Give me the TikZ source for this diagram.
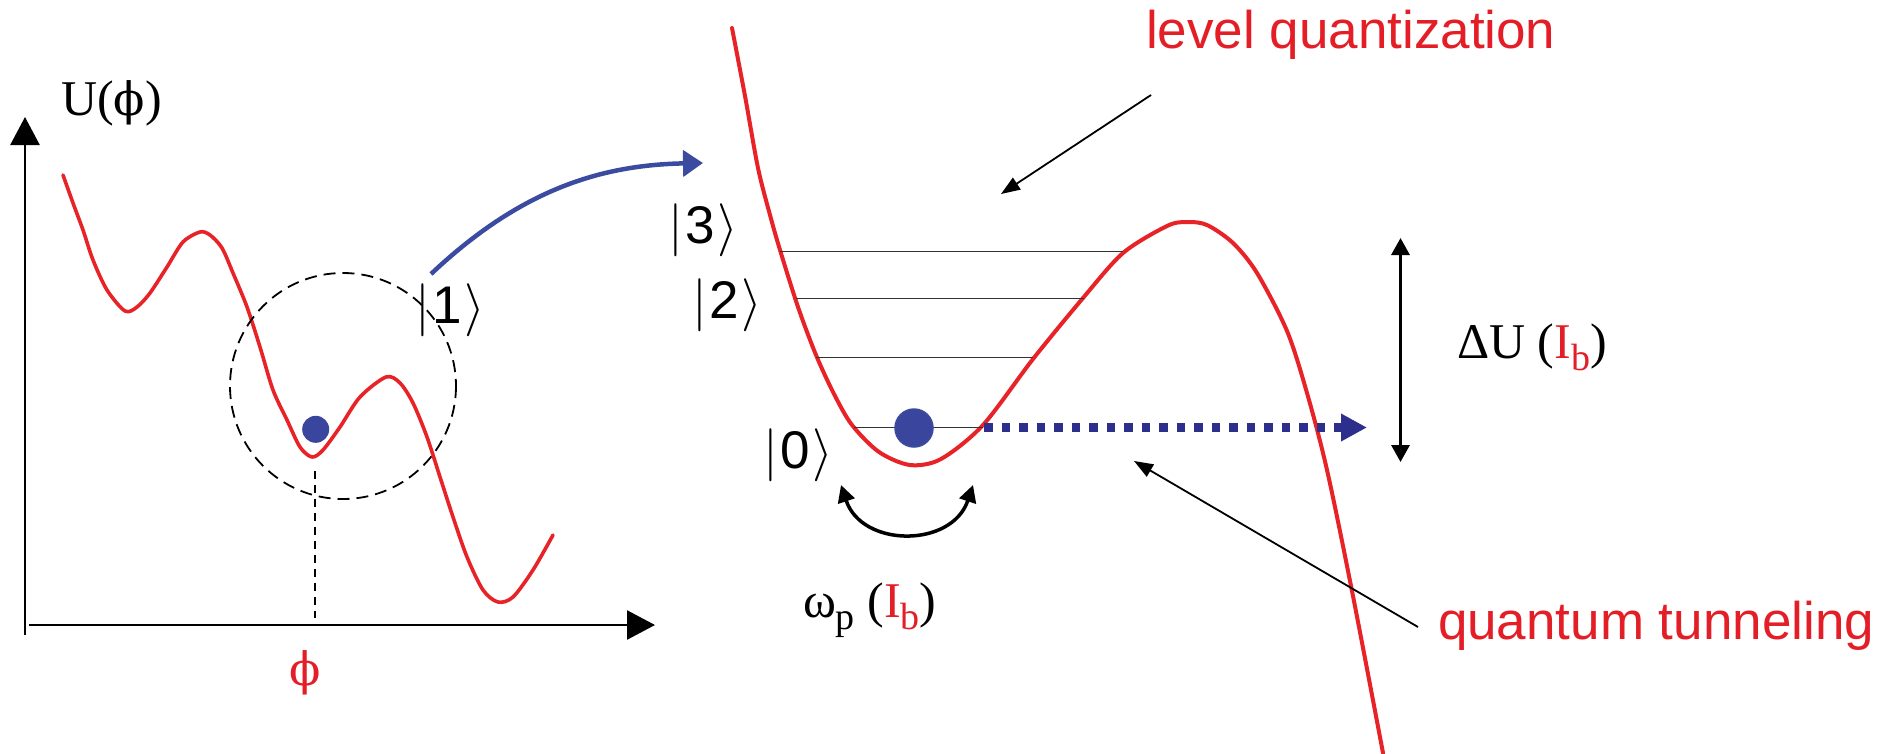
\RequirePackage{fix-cm}
\documentclass[tikz,border=0pt]{standalone}
\usepackage{fontspec}
\setmainfont{Liberation Serif}
\newfontfamily\sansf{Liberation Sans}
\newfontfamily\phifont{DejaVu Serif}
\usetikzlibrary{arrows.meta}
\definecolor{curvered}{RGB}{232,35,40}
\definecolor{textred}{RGB}{228,30,38}
\definecolor{arrowblue}{RGB}{59,75,160}
\definecolor{dotblue}{RGB}{58,70,158}
\definecolor{navy}{RGB}{44,47,140}
\newcommand\lowsub[1]{\raisebox{-12pt}{\fontsize{38}{38}\selectfont #1}}
\newcommand\myket[1]{$\vert$\hspace{3pt}{\sansf #1}\hspace{2pt}$\rangle$}
\newcommand\myphi{{\phifont\fontsize{46}{56}\selectfont ϕ}}
\tikzset{
  lbl/.style={inner sep=0pt, outer sep=0pt},
  seriftxt/.style={lbl, font=\fontsize{50}{60}\selectfont},
  ketlbl/.style={lbl, font=\fontsize{53}{60}\selectfont},
  redtxt/.style={lbl, text=textred, font=\sansf\fontsize{53}{60}\selectfont},
  potential/.style={draw=curvered, line width=3.6pt, line join=round, line cap=round},
  axis/.style={line width=2.5pt, -{Triangle[length=28pt,width=29pt]}},
  pointer/.style={line width=1.8pt, -{Triangle[length=19pt,width=14pt]}},
  level/.style={line width=0.9pt, draw=black!80},
  ball/.style={circle, fill=dotblue, inner sep=0pt},
}
\begin{document}
\begin{tikzpicture}[x=1pt,y=-1pt]
\useasboundingbox (0,0) rectangle (1892,753);
% axes
\coordinate (ybot) at (25,635);
\coordinate (ytop) at (25,117);
\coordinate (xleft) at (29,625);
\coordinate (xright) at (655,625);
\draw[axis] (ybot) -- (ytop);
\draw[axis] (xleft) -- (xright);
\node[seriftxt, anchor=base west] (ulabel) at (61,115) {U(\myphi)};
\node[seriftxt, text=textred] (philabel) at (305,673) {\myphi};
% left potential
\draw[potential] plot[smooth, tension=0.5] coordinates {
 (63,175) (73,203) (83,230) (93,260) (107,290) (125,311) (137,307) (150,293)
 (167,267) (183,242) (200,232) (210,235) (222,248) (233,273) (247,307)
 (260,347) (273,390) (287,420) (300,447) (312,457) (323,450) (340,427)
 (360,397) (386,377) (400,383) (413,403) (427,437) (440,477) (453,517)
 (467,557) (483,590) (498,602) (513,597) (533,570) (553,535)};
\node[ball, minimum size=27pt] (smallball) at (315.7,429.3) {};
\draw[line width=1.8pt, dash pattern=on 12pt off 7pt] (343,386) circle[radius=113];
\coordinate (minleft) at (314.7,471);
\coordinate (minaxis) at (314.7,618);
\draw[line width=1.8pt, dash pattern=on 8pt off 6pt] (minleft) -- (minaxis);
\node[ketlbl] (ket1) at (450,310) {\myket{1}};
% zoom arrow
\coordinate (zoomstart) at (431,274);
\coordinate (zoomend) at (703,163);
\draw[arrowblue, line width=4.5pt, -{Triangle[length=20pt,width=26pt]}]
  (zoomstart) .. controls (520,190) and (600,165) .. (zoomend);
% right potential
\draw[potential, line width=4pt] plot[smooth, tension=0.5] coordinates {
 (732,28) (745,96) (758,168) (770,215) (780,250) (798,307) (816,355) (834,394)
 (852,425) (879,452) (910,465) (941,459) (983,425) (1033,359) (1083,298)
 (1123,253) (1167,226) (1187,222) (1207,225) (1233,243) (1257,273) (1287,331)
 (1307,393) (1327,470) (1352,591) (1383,753)};
% levels
\draw[level] (780,251.5) -- (1123,251.5);
\draw[level] (796,298) -- (1084,298);
\draw[level] (816,357) -- (1033,357);
\draw[level] (854,427.5) -- (983,427.5);
\node[ketlbl] (ket3) at (703,230) {\myket{3}};
\node[ketlbl] (ket2) at (727,305) {\myket{2}};
\node[ketlbl] (ket0) at (798,455) {\myket{0}};
\node[ball, minimum size=38pt, draw=arrowblue, line width=1.5pt] (bigball) at (914,428) {};
% tunneling arrow
\coordinate (tunstart) at (984,427.5);
\coordinate (tunend) at (1367,427.5);
\draw[navy, line width=8.5pt, dash pattern=on 8.5pt off 9pt, -{Triangle[length=26pt,width=26pt]}] (tunstart) -- (tunend);
% oscillation arrow
\coordinate (oscl) at (841,485);
\coordinate (oscr) at (973,485);
\draw[line width=3.5pt, {Triangle[length=17pt,width=17pt]}-{Triangle[length=17pt,width=17pt]}]
  (oscl) .. controls (862,548) and (952,548) .. (oscr);
\node[seriftxt, anchor=base west] (omega) at (803,617)
  {ω\lowsub{p} (\textcolor{textred}{I\lowsub{b}})};
% barrier height
\coordinate (dutop) at (1400.5,238);
\coordinate (dubot) at (1400.5,462);
\draw[line width=3.2pt, {Triangle[length=17pt,width=18pt]}-{Triangle[length=17pt,width=18pt]}] (dutop) -- (dubot);
\node[seriftxt, anchor=base west] (dulabel) at (1457,358)
  {ΔU (\textcolor{textred}{I\lowsub{b}})};
% annotations
\node[redtxt, anchor=base west] (lq) at (1146,48) {level quantization};
\coordinate (lqfrom) at (1151,95);
\coordinate (lqto) at (1001,194);
\draw[pointer] (lqfrom) -- (lqto);
\node[redtxt, anchor=base west] (qt) at (1438,639) {quantum tunneling};
\coordinate (qtfrom) at (1418,627);
\coordinate (qtto) at (1134,461);
\draw[pointer] (qtfrom) -- (qtto);
\end{tikzpicture}
\end{document}
